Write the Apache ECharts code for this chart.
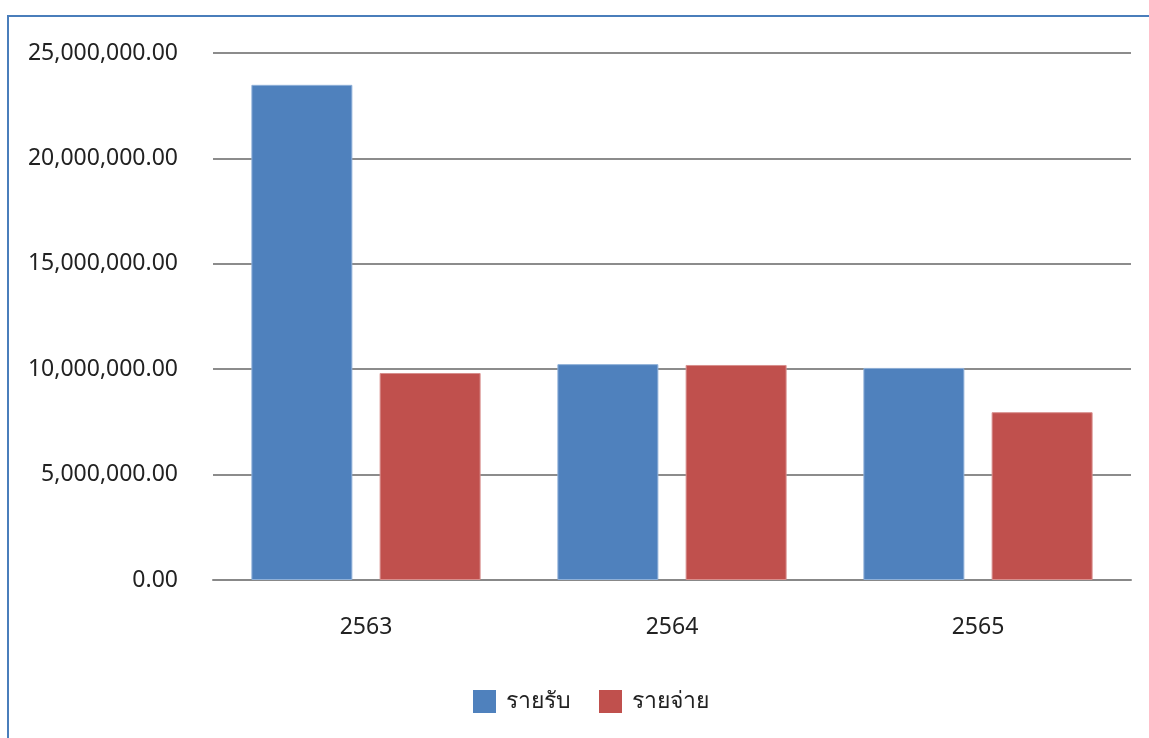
<!DOCTYPE html>
<html>
<head>
<meta charset="utf-8">
<script src="https://cdn.jsdelivr.net/npm/echarts@6/dist/echarts.min.js"></script>
<style>
html,body{margin:0;padding:0;background:#fff;}
#chart{position:absolute;left:0;top:0;width:1149px;height:738px;}
#frame{position:absolute;left:7px;top:15px;width:1160px;height:740px;border-left:2px solid #4a7ebb;border-top:2px solid #4a7ebb;pointer-events:none;}
</style>
</head>
<body>
<div id="chart"></div>
<div id="frame"></div>
<script>
const categories = ['2563', '2564', '2565'];
const incomeName = 'รายรับ';
const expenseName = 'รายจ่าย';
const income = [23490000, 10240000, 10060000];
const expense = [9820000, 10200000, 7960000];

const font = "'Noto Sans', Tahoma, 'DejaVu Sans', sans-serif";
const chart = echarts.init(document.getElementById('chart'));
chart.setOption({
  animation: false,
  textStyle: { fontFamily: font },
  grid: { left: 213, right: 18, top: 53, bottom: 158, containLabel: false },
  legend: {
    bottom: 25, left: 473, padding: 0,
    itemWidth: 23, itemHeight: 23, itemGap: 28,
    icon: 'rect',
    itemStyle: { borderWidth: 0 },
    textStyle: { fontSize: 23, color: '#222', fontFamily: font, padding: [0, 0, 0, 5] },
    data: [incomeName, expenseName]
  },
  xAxis: {
    type: 'category', data: categories,
    axisLine: { lineStyle: { color: '#888', width: 2 } },
    axisTick: { show: false },
    axisLabel: { fontSize: 23, color: '#222', margin: 36 }
  },
  yAxis: {
    type: 'value', min: 0, max: 25000000, interval: 5000000,
    axisLine: { show: false },
    axisTick: { show: false },
    splitLine: { lineStyle: { color: '#8c8c8c', width: 2 } },
    axisLabel: {
      fontSize: 23, color: '#222', margin: 35,
      formatter: v => v.toLocaleString('en-US', { minimumFractionDigits: 2, maximumFractionDigits: 2 })
    }
  },
  series: [
    { name: incomeName, type: 'bar', data: income, barWidth: '33%', barGap: '27%',
      itemStyle: { color: '#4f81bd', borderColor: '#8fb0d8', borderWidth: 1 } },
    { name: expenseName, type: 'bar', data: expense, barWidth: '33%', barGap: '27%',
      itemStyle: { color: '#c0504d', borderColor: '#d88f8d', borderWidth: 1 } }
  ]
});
</script>
</body>
</html>
